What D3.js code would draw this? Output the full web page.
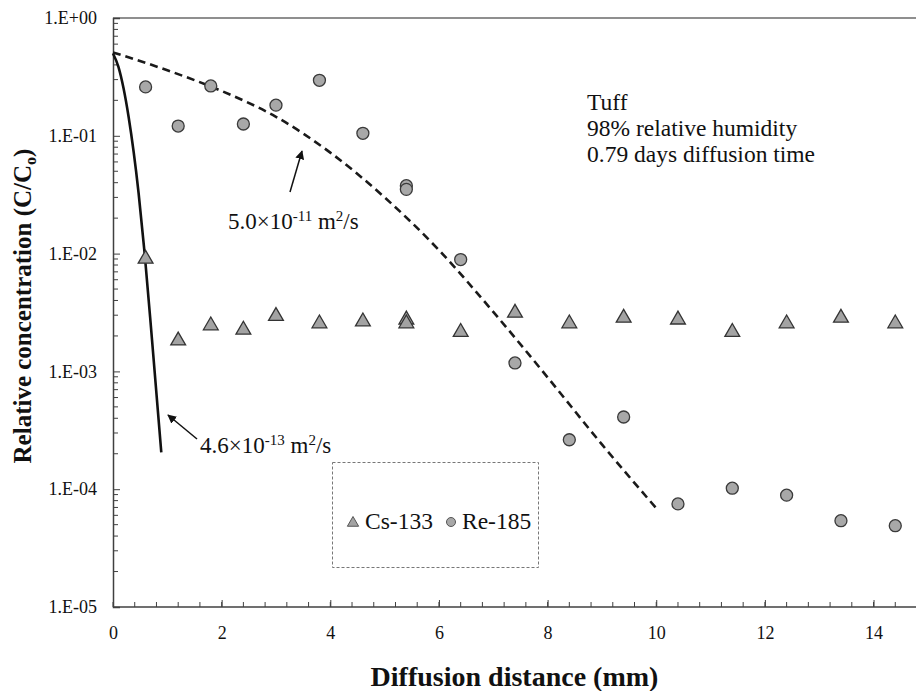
<!DOCTYPE html>
<html>
<head>
<meta charset="utf-8">
<script src="https://cdn.jsdelivr.net/npm/d3@7"></script>
<style>
body { margin: 0; background: #fff; }
svg { display: block; }
text { font-family: "Liberation Serif", "Times New Roman", serif; fill: #111; }
</style>
</head>
<body>
<div id="chart"></div>
<script>

// Cs-133 measured points (triangles)
var csX = [0.6, 1.2, 1.8, 2.4, 3.0, 3.8, 4.6, 5.4, 5.4, 6.4, 7.4, 8.4, 9.4, 10.4, 11.4, 12.4, 13.4, 14.4];
var csY = [0.0092, 0.00186, 0.0025, 0.0023, 0.0030, 0.0026, 0.0027, 0.0028, 0.0026, 0.0022, 0.0032, 0.0026, 0.0029, 0.0028, 0.0022, 0.0026, 0.0029, 0.0026];

// Re-185 measured points (circles)
var reX = [0.6, 1.2, 1.8, 2.4, 3.0, 3.8, 4.6, 5.4, 5.4, 6.4, 7.4, 8.4, 9.4, 10.4, 11.4, 12.4, 13.4, 14.4];
var reY = [0.260, 0.121, 0.265, 0.126, 0.182, 0.296, 0.105, 0.0377, 0.0351, 0.0089, 0.00118, 0.000263, 0.00041, 0.000075, 0.000102, 0.000089, 0.000054, 0.000049];

// fitted curve for 5.0e-11 m2/s (dashed)
var fastX = [0, 1, 2, 3, 4, 5, 6, 7, 8, 9, 10];
var fastY = [0.51, 0.36, 0.24, 0.145, 0.072, 0.030, 0.0107, 0.0032, 0.00089, 0.00024, 0.000069];

// fitted curve for 4.6e-13 m2/s (solid)
var slowX = [0, 0.1, 0.195, 0.287, 0.471, 0.582, 0.718, 0.889];
var slowY = [0.5, 0.385, 0.252, 0.145, 0.0327, 0.0101, 0.00186, 0.000205];

var xTicks = [0, 2, 4, 6, 8, 10, 12, 14];
var yTicks = [1e-5, 1e-4, 1e-3, 1e-2, 1e-1, 1];
var yTickLabels = ["1.E-05", "1.E-04", "1.E-03", "1.E-02", "1.E-01", "1.E+00"];
var infoLines = ["Tuff", "98% relative humidity", "0.79 days diffusion time"];

var width = 916, height = 691;
var plotLeft = 113, plotTop = 18, plotBottom = 607;

var svg = d3.select("#chart").append("svg")
.attr("width", width)
.attr("height", height);

var x = d3.scaleLinear()
.domain([0, 14.8])
.range([plotLeft, 917]);

var y = d3.scaleLog()
.domain([1e-5, 1])
.range([plotBottom, plotTop]);

var axisColor = "#404040";
var serif = "'Liberation Serif', 'Times New Roman', serif";

// frame: top line and the two axes
svg.append("line")
.attr("x1", plotLeft).attr("x2", width)
.attr("y1", plotTop).attr("y2", plotTop)
.attr("stroke", "#6a6a6a").attr("stroke-width", 1.5);

var xAxis = d3.axisBottom(x)
.tickValues(xTicks)
.tickSize(-7)
.tickPadding(19)
.tickFormat(d3.format("d"));

var gx = svg.append("g")
.attr("transform", "translate(0," + plotBottom + ")")
.call(xAxis);

// minor x ticks every 0.4 mm
var xMinor = d3.range(0, 14.5, 0.4).map(function(d) { return +d.toFixed(1); });
gx.selectAll(".minor").data(xMinor).enter().append("line")
.attr("class", "minor")
.attr("x1", function(d) { return x(d); })
.attr("x2", function(d) { return x(d); })
.attr("y1", 0).attr("y2", -5)
.attr("stroke", axisColor);

gx.select(".domain").attr("d", "M" + plotLeft + ",0H" + width);

var yAxis = d3.axisLeft(y)
.tickValues(yTicks)
.tickSize(-7)
.tickPadding(16)
.tickFormat(function(d, i) { return yTickLabels[i]; });

var gy = svg.append("g")
.attr("transform", "translate(" + plotLeft + ",0)")
.call(yAxis);

// minor log ticks 2..9 in each decade
var yMinor = [];
for (var e = -5; e < 0; e++) {
	for (var k = 2; k < 10; k++) yMinor.push(k * Math.pow(10, e));
}
gy.selectAll(".minor").data(yMinor).enter().append("line")
.attr("class", "minor")
.attr("y1", function(d) { return y(d); })
.attr("y2", function(d) { return y(d); })
.attr("x1", 0).attr("x2", 5)
.attr("stroke", axisColor);

[gx, gy].forEach(function(g) {
	g.attr("font-family", serif).attr("font-size", 18);
	g.select(".domain").attr("stroke", axisColor).attr("stroke-width", 1.5);
	g.selectAll(".tick line").attr("stroke", axisColor);
	g.selectAll(".tick text").attr("fill", "#111");
});

// axis titles
svg.append("text")
.attr("x", (plotLeft + width) / 2)
.attr("y", 686)
.attr("text-anchor", "middle")
.style("font-size", "28px")
.style("font-weight", "bold")
.text("Diffusion distance (mm)");

var yTitle = svg.append("text")
.attr("transform", "translate(31,306) rotate(-90)")
.attr("text-anchor", "middle")
.style("font-size", "25px")
.style("font-weight", "bold");
yTitle.append("tspan").text("Relative concentration (C/C");
yTitle.append("tspan").attr("dy", 5).style("font-size", "16px").text("o");
yTitle.append("tspan").attr("dy", -5).text(")");

// model curves
var line = d3.line()
.x(function(d) { return x(d[0]); })
.y(function(d) { return y(d[1]); })
.curve(d3.curveMonotoneX);

svg.append("path")
.datum(d3.zip(fastX, fastY))
.attr("d", line)
.attr("fill", "none")
.attr("stroke", "#1a1a1a")
.attr("stroke-width", 2.6)
.attr("stroke-dasharray", "8,5");

svg.append("path")
.datum(d3.zip(slowX, slowY))
.attr("d", line)
.attr("fill", "none")
.attr("stroke", "#111")
.attr("stroke-width", 2.6);

// markers
var tri = d3.symbol().type(d3.symbolTriangle).size(95);

svg.selectAll(".cs").data(d3.zip(csX, csY)).enter().append("path")
.attr("class", "cs")
.attr("d", tri)
.attr("transform", function(d) { return "translate(" + x(d[0]) + "," + (y(d[1]) + 1) + ")"; })
.attr("fill", "#a3a3a3")
.attr("stroke", "#333")
.attr("stroke-width", 1.3);

svg.selectAll(".re").data(d3.zip(reX, reY)).enter().append("circle")
.attr("class", "re")
.attr("cx", function(d) { return x(d[0]); })
.attr("cy", function(d) { return y(d[1]); })
.attr("r", 6)
.attr("fill", "#a8a8a8")
.attr("stroke", "#3a3a3a")
.attr("stroke-width", 1.3);

// arrows + labels for the two diffusion coefficients
svg.append("defs").append("marker")
.attr("id", "head")
.attr("viewBox", "0 0 10 10")
.attr("refX", 9).attr("refY", 5)
.attr("markerWidth", 9).attr("markerHeight", 9)
.attr("markerUnits", "userSpaceOnUse")
.attr("orient", "auto")
.append("path")
.attr("d", "M0,0L10,5L0,10z")
.attr("fill", "#111");

function arrow(x1, y1, x2, y2) {
	svg.append("line")
	.attr("x1", x1).attr("y1", y1)
	.attr("x2", x2).attr("y2", y2)
	.attr("stroke", "#111")
	.attr("stroke-width", 1.5)
	.attr("marker-end", "url(#head)");
}

function coefLabel(px, py, mant, exp) {
	var t = svg.append("text")
	.attr("x", px).attr("y", py)
	.style("font-size", "23px");
	t.append("tspan").text(mant + "\u00d710");
	t.append("tspan").attr("dy", -8).style("font-size", "15px").text(exp);
	t.append("tspan").attr("dy", 8).text(" m");
	t.append("tspan").attr("dy", -8).style("font-size", "15px").text("2");
	t.append("tspan").attr("dy", 8).text("/s");
}

arrow(290, 192, 302, 151);
coefLabel(228, 229, "5.0", "-11");

arrow(197, 439, 168, 415);
coefLabel(200, 453, "4.6", "-13");

// info block
svg.selectAll(".info").data(infoLines).enter().append("text")
.attr("class", "info")
.attr("x", 587)
.attr("y", function(d, i) { return 110 + i * 26; })
.style("font-size", "23.5px")
.text(function(d) { return d; });

// legend
var lg = svg.append("g");
lg.append("rect")
.attr("x", 332.5).attr("y", 462.5)
.attr("width", 206).attr("height", 105)
.attr("fill", "none")
.attr("stroke", "#777")
.attr("stroke-dasharray", "3,2");

lg.append("path")
.attr("d", d3.symbol().type(d3.symbolTriangle).size(55))
.attr("transform", "translate(353,523)")
.attr("fill", "#a3a3a3").attr("stroke", "#555");
lg.append("text").attr("x", 365).attr("y", 529).style("font-size", "23.5px").text("Cs-133");

lg.append("circle")
.attr("cx", 451).attr("cy", 522).attr("r", 4.5)
.attr("fill", "#a8a8a8").attr("stroke", "#555");
lg.append("text").attr("x", 462).attr("y", 529).style("font-size", "23.5px").text("Re-185");

</script>
</body>
</html>
